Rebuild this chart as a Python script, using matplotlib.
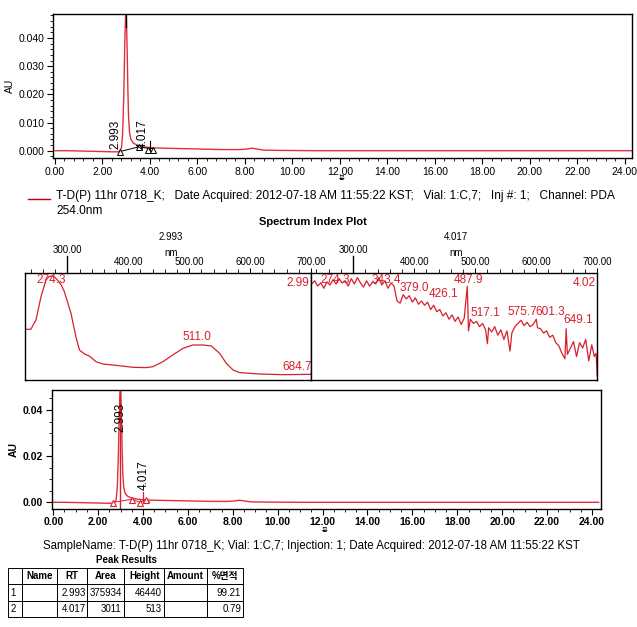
import matplotlib
matplotlib.use("Agg")
import matplotlib.pyplot as plt
from matplotlib.ticker import MultipleLocator

plt.rcParams['font.family'] = ['Liberation Sans', 'Noto Sans CJK KR', 'DejaVu Sans']

W, H = 637, 627

# chromatogram (PDA 254 nm)
rt_min = [0, 0.5, 1.0, 1.5, 2.0, 2.4, 2.7, 2.80, 2.85, 2.90, 2.94, 2.97, 2.99, 3.01, 3.04,
          3.07, 3.10, 3.14, 3.20, 3.30, 3.45, 3.6, 3.8, 4.0, 4.2, 4.5, 5.0, 6.0, 7.0, 7.8,
          8.1, 8.3, 8.5, 8.8, 9.5, 11, 14, 18, 24.3]
au = [0.0000, 0.0000, -0.0001, -0.0002, -0.0003, -0.0004, -0.0004, 0.0010, 0.0060, 0.0200,
      0.0380, 0.0470, 0.0490, 0.0470, 0.0360, 0.0220, 0.0120, 0.0065, 0.0040, 0.0027,
      0.0020, 0.0016, 0.0013, 0.0011, 0.0010, 0.0009, 0.0008, 0.0006, 0.0004, 0.0004,
      0.0006, 0.0009, 0.0006, 0.0002, 0.0001, 0.0000, 0.0000, 0.0000, 0.0000]
peak_rt = [2.993, 4.017]
peak_labels = ["2.993", "4.017"]

# spectrum at 2.993 min
wl_a = [231, 240, 248.5, 256.8, 265, 270, 275, 280, 284, 290, 295, 306, 314, 320, 328, 336,
        347, 358, 380, 407.6, 429.6, 440.5, 457, 473, 490, 506, 523, 536.5, 550, 561, 572,
        583, 616, 654, 698, 700]
ab_a = [0.475, 0.475, 0.5625, 0.781, 0.9375, 0.97, 0.975, 0.96, 0.935, 0.89, 0.83, 0.625,
        0.406, 0.281, 0.244, 0.225, 0.172, 0.15, 0.1375, 0.119, 0.116, 0.125, 0.172, 0.234,
        0.297, 0.328, 0.328, 0.319, 0.25, 0.156, 0.094, 0.069, 0.056, 0.05, 0.053, 0.053]
maxima_a = ["274.3", "511.0", "684.7"]
maxima_a_pos = [(274, 0.935), (512, 0.40), (677, 0.12)]

# spectrum at 4.017 min
wl_b = [232, 237, 242, 247, 252, 257, 262, 267, 272, 277, 282, 287, 292, 297, 302, 307, 312,
        317, 322, 327, 332, 337, 342, 347, 352, 357, 362, 367, 372, 377, 382, 387, 392, 397,
        402, 407, 412, 417, 422, 427, 432, 437, 442, 447, 452, 457, 462, 467, 472, 477, 482,
        487, 489, 492, 497, 502, 507, 512, 517, 520, 522, 527, 532, 537, 542, 547, 552, 557,
        560, 565, 570, 575, 580, 585, 590, 595, 600, 602, 607, 612, 617, 622, 627, 632, 637,
        642, 647, 649, 651, 656, 661, 666, 671, 676, 681, 686, 691, 695, 698, 700]
ab_b = [.90, .93, .88, .91, .86, .92, .89, .94, .90, .95, .91, .93, .88, .95, .90, .96, .91,
        .87, .93, .88, .92, .90, .96, .89, .93, .86, .91, .88, .74, .72, .80, .76, .79, .73,
        .77, .71, .74, .70, .73, .66, .70, .64, .66, .60, .63, .57, .61, .55, .59, .52, .58,
        .88, .46, .57, .53, .55, .50, .53, .47, .34, .49, .45, .50, .42, .47, .38, .46, .27,
        .44, .50, .53, .56, .51, .54, .50, .52, .57, .49, .48, .44, .46, .40, .42, .35, .32,
        .25, .20, .48, .24, .30, .36, .22, .35, .30, .38, .18, .33, .22, .25, .03]
maxima_b = ["274.3", "343.4", "379.0", "426.1", "487.9", "517.1", "575.7", "601.3", "649.1"]
maxima_b_pos = [(270, 0.94), (355, 0.94), (401, 0.86), (448, 0.81), (489, 0.94),
                (516, 0.625), (577, 0.64), (623, 0.64), (669, 0.56)]

# peak table
tbl_cols = ["", "Name", "RT", "Area", "Height", "Amount", "%면적"]
tbl_rows = [["1", "", "2.993", "375934", "46440", "", "99.21"],
            ["2", "", "4.017", "3011", "513", "", "0.79"]]

red = '#d8202c'
trace = '#e0303a'


def box(x0, y0, x1, y1):
    return [x0 / W, 1 - y1 / H, (x1 - x0) / W, (y1 - y0) / H]


def ftxt(x, y, s, **kw):
    fig.text(x / W, 1 - y / H, s, **kw)


fig = plt.figure(figsize=(W / 100, H / 100), dpi=100)

# ---- top chromatogram
ax1 = fig.add_axes(box(53.3, 14, 631.7, 158.3))
ax1.plot(rt_min, au, color=trace, lw=1.0)
ax1.set_xlim(-0.07, 24.29)
ax1.set_ylim(-0.0027, 0.0485)
ax1.xaxis.set_major_locator(MultipleLocator(2))
ax1.xaxis.set_minor_locator(MultipleLocator(0.4))
ax1.yaxis.set_major_locator(MultipleLocator(0.01))
ax1.yaxis.set_minor_locator(MultipleLocator(0.002))
ax1.xaxis.set_major_formatter(lambda v, p: f"{v:.2f}")
ax1.yaxis.set_major_formatter(lambda v, p: f"{v:.3f}")
ax1.tick_params(which='major', length=4, width=0.8, labelsize=7.5, pad=2)
ax1.tick_params(which='minor', length=2, width=0.6)
ax1.set_ylabel("AU", fontsize=7.5, labelpad=3)
for s in ax1.spines.values():
    s.set_linewidth(1.0)
# integration marks
ax1.plot([peak_rt[0], peak_rt[0]], [0.044, 0.0485], color='black', lw=0.9)
ax1.plot([2.74, 3.55, 3.93, 4.11], [-0.0003, 0.0014, 0.0008, 0.0008], color='black', lw=0.7)
ax1.plot([2.74, 3.55, 3.93, 4.11], [-0.0005, 0.0012, 0.0001, 0.0001], ls='none', marker='^',
         mfc='white', mec='black', ms=4, mew=0.7)
ax1.plot([peak_rt[1], peak_rt[1]], [0.0002, 0.0035], color='black', lw=0.8)
ax1.text(2.53, 0.0006, peak_labels[0], rotation=90, ha='center', va='bottom', fontsize=8.5)
ax1.text(3.69, 0.0006, peak_labels[1], rotation=90, ha='center', va='bottom', fontsize=8.5)
ftxt(342, 179, "분", fontsize=4.5, ha='center', va='center')

# legend
fig.add_artist(plt.Line2D([28 / W, 50 / W], [1 - 199 / H, 1 - 199 / H], color='#c00000', lw=1.0))
ftxt(56, 196, "T-D(P) 11hr 0718_K;   Date Acquired: 2012-07-18 AM 11:55:22 KST;   "
     "Vial: 1:C,7;   Inj #: 1;   Channel: PDA", fontsize=8.6, va='center')
ftxt(56, 211, "254.0nm", fontsize=8.6, va='center')
ftxt(313, 222, "Spectrum Index Plot", fontsize=8, weight='bold', ha='center', va='center')


# ---- spectra
def spectrum(rect, wl, ab, labels, pos, rt_txt, corner, cx):
    ax = fig.add_axes(rect)
    ax.plot(wl, ab, color=red, lw=0.9)
    ax.set_xlim(231, 700)
    ax.set_ylim(0, 1)
    ax.set_yticks([])
    ax.set_xticks([400, 500, 600, 700])
    ax.set_xticklabels(["400.00", "500.00", "600.00", "700.00"])
    ax.xaxis.set_minor_locator(MultipleLocator(20))
    ax.tick_params(axis='x', which='both', top=True, bottom=False, labeltop=True,
                   labelbottom=False, labelsize=7, pad=1)
    ax.tick_params(axis='x', which='major', length=3.5, width=0.7)
    ax.tick_params(axis='x', which='minor', length=3, width=0.6)
    for s in ax.spines.values():
        s.set_linewidth(1.0)
    ax.plot([300, 300], [1, 1.16], color='black', lw=1.0, clip_on=False)
    ax.text(300, 1.17, "300.00", ha='center', va='bottom', fontsize=7)
    ax.text(cx, 1.14, "nm", ha='center', va='bottom', fontsize=7)
    ax.text(cx, 1.29, rt_txt, ha='center', va='bottom', fontsize=7)
    for s, (x, y) in zip(labels, pos):
        ax.text(x, y, s, color=red, fontsize=8.5, ha='center', va='center')
    ax.text(697, 0.905, corner, color=red, fontsize=8.5, ha='right', va='center')
    return ax


spectrum(box(25.3, 273.3, 311, 380), wl_a, ab_a, maxima_a, maxima_a_pos, "2.993", "2.99", 470)
spectrum(box(311, 273.3, 597.3, 380), wl_b, ab_b, maxima_b, maxima_b_pos, "4.017", "4.02", 468)

# ---- bottom chromatogram
ax2 = fig.add_axes(box(51.7, 389.7, 600.7, 509))
ax2.plot(rt_min, au, color=trace, lw=1.0)
ax2.set_xlim(-0.07, 24.39)
ax2.set_ylim(-0.0029, 0.0488)
ax2.xaxis.set_major_locator(MultipleLocator(2))
ax2.xaxis.set_minor_locator(MultipleLocator(0.5))
ax2.yaxis.set_major_locator(MultipleLocator(0.02))
ax2.yaxis.set_minor_locator(MultipleLocator(0.005))
ax2.xaxis.set_major_formatter(lambda v, p: f"{v:.2f}")
ax2.yaxis.set_major_formatter(lambda v, p: f"{v:.2f}")
ax2.tick_params(which='major', length=4, width=0.8, labelsize=7.5, pad=2)
ax2.tick_params(which='minor', length=2, width=0.6)
for lab in ax2.get_xticklabels() + ax2.get_yticklabels():
    lab.set_fontweight('bold')
ax2.set_ylabel("AU", fontsize=7.5, weight='bold', labelpad=3)
for s in ax2.spines.values():
    s.set_linewidth(1.0)
ax2.axvline(peak_rt[0], color=red, lw=1.0)
ax2.plot([peak_rt[1], peak_rt[1]], [0, 0.0045], color=red, lw=0.9)
ax2.plot([2.68, 3.5, 3.87, 4.12, 4.3], [0.0, 0.0013, 0.0, 0.0013, 0.0], color=red, lw=0.7)
ax2.plot([2.68, 3.5, 3.87, 4.12], [-0.0005, 0.0008, -0.0005, 0.0008], ls='none', marker='^',
         mfc='white', mec=red, ms=5, mew=0.8)
ax2.text(peak_rt[0] + 0.02, 0.0305, peak_labels[0], rotation=90, ha='center', va='bottom',
         fontsize=8.5)
ax2.text(4.01, 0.0053, peak_labels[1], rotation=90, ha='center', va='bottom', fontsize=8.5)
ftxt(325, 530, "분", fontsize=4.5, ha='center', va='center')
ftxt(311, 546.5, "SampleName: T-D(P) 11hr 0718_K; Vial: 1:C,7; Injection: 1; "
     "Date Acquired: 2012-07-18 AM 11:55:22 KST", fontsize=8.3, ha='center', va='center')

# ---- peak table
ftxt(126.7, 560, "Peak Results", fontsize=7, weight='bold', ha='center', va='center')
axt = fig.add_axes(box(8.3, 568.3, 243.3, 616.7))
axt.axis('off')
col_w = [13.4, 35.6, 30, 36.7, 40.3, 42.4, 36.6]
tb = axt.table(cellText=[tbl_cols] + tbl_rows, colWidths=[c / sum(col_w) for c in col_w],
               bbox=[0, 0, 1, 1], cellLoc='right')
tb.auto_set_font_size(False)
tb.set_fontsize(7)
for (r, c), cell in tb.get_celld().items():
    cell.set_linewidth(0.7)
    cell.PAD = 0.06
    if r == 0:
        cell.get_text().set_ha('center')
        cell.get_text().set_fontweight('bold')
    elif c == 0:
        cell.get_text().set_ha('left')
        cell.PAD = 0.15

fig.savefig("out.png", dpi=100)
